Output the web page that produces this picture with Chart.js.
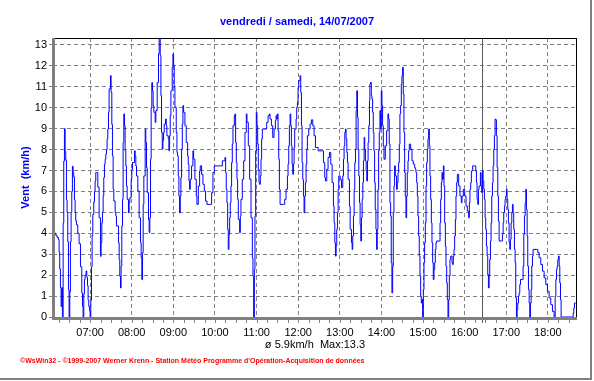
<!DOCTYPE html>
<html>
<head>
<meta charset="utf-8">
<title>Vent</title>
<script src="https://cdn.jsdelivr.net/npm/chart.js@4.4.1/dist/chart.umd.min.js"></script>
<style>
  html, body { margin:0; padding:0; background:#ffffff; overflow:hidden; }
  #c { display:block; }
</style>
</head>
<body>
<canvas id="c" width="594" height="381"></canvas>
<script>
// ---------- texts ----------
const chartTitle = 'vendredi / samedi, 14/07/2007';
const yAxisTitle = 'Vent  (km/h)';
const summaryLine = 'ø 5.9km/h  Max:13.3';
const creditLine = '©WsWin32 - ©1999-2007 Werner Krenn - Station Météo Programme d\'Opération-Acquisition de données';

// ---------- axes ----------
const hourTickLabels = ['07:00','08:00','09:00','10:00','11:00','12:00','13:00','14:00','15:00','16:00','17:00','18:00'];
const speedTickValues = [0,1,2,3,4,5,6,7,8,9,10,11,12,13];
const timeRange = [366.5, 1122];      // minutes since midnight
const speedMax = 13.33;
const markerTime = '16:25';

// ---------- data (time in minutes since midnight, wind in km/h) ----------
const timesA = [368.5,370.5,372.4,374.3,375.3,376.2,377.2,378.2,379.1,380.1,
381.1,382.0,383.0,384.0,384.9,385.9,386.8,387.8,388.8,389.7,
390.7,391.6,392.6,393.6,394.5,395.5,396.4,397.4,398.4,399.3,
400.3,402.2,404.1,406.1,408.0,409.0,409.9,410.9,411.8,412.8,
414.2,415.2,416.2,417.1,418.1,419.1,420.0,421.0,422.0,422.9,
423.9,425.3,426.3,427.2,428.2,429.2,431.1,433.0,434.9,435.9,
436.9,437.8,438.8,439.7,440.7,441.7,442.6,443.6,444.5,445.5,
446.5,447.4,449.4,450.3,451.3,452.2,453.2,454.2,456.1,457.1,
458.0,460.9,461.9,462.8,463.8,464.7,465.7,466.7,467.6,468.6,
469.6,470.5,471.5,472.4,473.4,475.3,476.3,477.3,479.2,480.1,
481.1,484.0,485.0,485.9,486.9,488.8,490.7,492.7,493.6,494.6,
495.5,496.5,497.5,499.4,500.3,501.3,502.3,504.2,505.1,506.1,
507.1,508.0,509.0,510.0,510.9,511.9,513.8,514.8,516.7,518.6,
519.6];
const speedsA = [4.0,3.9,3.8,3.7,3.1,2.3,1.4,0.5,1.4,0,
4.5,7.45,9.0,7.9,7.5,5.6,5.0,3.6,1.3,0,
1.2,3.6,5.0,6.0,7.2,6.9,6.7,5.6,5.0,4.6,
4.4,4.0,3.5,2.4,1.15,0.5,0,1.1,1.8,2.0,
2.2,1.9,1.5,0.8,0.5,0.3,0,0.8,2.4,3.9,
4.9,5.5,6.0,6.5,6.9,6.9,6.2,4.74,2.9,3.55,
4.5,5.0,5.8,6.66,7.3,7.54,7.78,8.0,8.5,8.98,
9.78,10.9,11.53,10.73,9.2,7.7,6.1,5.54,4.98,4.82,
4.35,3.55,2.75,1.95,1.39,2.43,4.35,5.62,8.34,9.7,
9.14,7.94,7.22,6.26,5.62,4.98,5.46,5.7,6.58,7.06,
7.38,7.94,7.7,7.22,6.74,6.02,4.74,3.55,2.83,1.79,
3.07,5.38,6.74,8.98,8.34,7.14,5.94,4.66,4.03,4.74,
7.54,10.0,11.2,10.8,10.1,9.78,9.3,9.86,11.2,12.57,
13.37];

const timesB = [521.1,522.1,523.0,524.0,525.0,525.9,526.9,528.8,529.8,530.7,
532.7,533.6,534.6,535.5,536.5,538.4,539.4,540.4,541.3,542.3,
544.2,545.2,546.1,547.1,548.0,549.0,550.0,550.9,551.9,552.9,
553.8,554.8,556.7,558.6,560.6,561.5,562.5,563.4,564.4,566.3,
568.2,569.2,571.1,573.1,574.0,576.0,577.9,578.8,580.8,582.7,
584.6,586.5,588.5,593.3,595.2,597.1,599.0,607.7,610.6,614.4,
615.4,616.3,617.3,618.3,619.2,620.2,621.2,622.1,623.1,624.0,
625.0,626.0,627.9,628.9,629.8,630.8,631.7,632.7,633.7,635.6,
636.6,637.5,639.4,641.4,643.3,645.2,646.2,648.1,650.0,652.0,
653.9,654.8,655.8,656.8,657.7,658.7,659.6,660.6,661.6,662.5,
663.5,664.4,665.4,666.4,667.3,668.3];
const speedsB = [12.49,10.58,8.82,8.02,8.42,8.82,9.22,9.46,9.14,8.66,
8.5,7.94,8.66,9.62,10.81,11.93,12.57,12.01,10.97,10.02,
8.82,7.86,7.7,6.74,5.78,4.98,5.78,6.66,8.02,9.22,
10.1,9.78,9.14,8.34,7.7,7.3,6.5,6.1,6.58,7.22,
7.94,7.54,6.58,5.78,5.38,6.26,6.98,7.22,6.82,6.34,
6.02,5.54,5.38,5.38,5.94,6.9,7.22,7.22,7.46,7.62,
6.9,6.1,5.46,4.19,3.23,3.95,4.74,5.46,6.26,7.38,
8.26,9.14,9.62,9.7,8.34,7.38,6.58,5.62,4.66,4.03,
4.82,5.62,6.58,7.46,8.82,9.7,9.3,8.18,6.58,4.74,
2.83,1.95,0,2.27,4.82,7.94,9.78,9.14,8.26,7.06,
6.42,6.34,6.74,7.54,8.5,8.98];

const timesC = [669.8,672.7,674.6,676.6,678.5,679.4,681.4,683.3,685.2,687.1,
688.1,689.1,690.0,691.0,692.0,692.9,693.9,698.7,700.6,702.5,
704.5,705.4,706.4,707.3,708.3,709.3,710.2,711.2,712.2,713.1,
714.1,715.0,717.0,717.9,718.9,719.8,720.8,722.7,723.7,724.7,
725.6,726.6,727.6,728.5,729.5,730.4,731.4,732.4,733.3,735.2,
737.2,739.1,741.0,742.9,744.9,748.7,754.5,756.4,758.3,759.3,
761.2,763.1,765.1,767.0,768.9,770.8,771.8,772.8,773.7,774.7,
775.6,776.6,777.6,778.5,780.5,782.4,784.3,785.3,786.2,787.2,
788.2,789.1,790.1,791.0,792.0,793.9,794.9,796.8,797.8,798.7,
799.7,800.7,801.6,802.6,803.5,804.5,805.5,806.4,807.4,808.4,
809.3,810.3,811.2,812.2,813.2,814.1,815.1,816.0,817.0,818.0,
818.9,819.9,820.8,821.8,822.8];
const speedsC = [8.98,8.98,9.3,9.62,9.7,9.46,9.14,8.58,8.98,9.38,
9.62,9.46,9.7,8.9,7.54,6.1,5.38,5.38,5.62,6.1,
6.74,7.3,8.18,9.14,9.7,9.14,8.18,7.3,6.82,7.3,
8.1,8.98,9.46,10.02,10.26,10.97,11.29,11.53,10.73,9.14,
7.38,6.58,5.78,4.98,5.78,6.42,7.3,8.02,8.66,8.98,
9.22,9.42,9.14,8.66,8.1,7.94,7.94,7.38,6.66,6.5,
7.06,7.62,7.86,7.3,6.42,5.3,4.5,3.55,2.91,3.39,
4.19,4.98,6.1,6.74,6.58,6.18,6.74,7.54,8.18,8.82,
8.98,8.5,7.86,7.38,6.58,5.3,4.19,3.55,3.23,3.87,
4.82,6.1,7.38,8.02,9.86,10.81,9.54,8.02,6.74,5.46,
4.42,3.63,4.74,5.62,6.42,7.46,8.58,8.02,7.46,6.98,
6.5,7.46,8.34,9.14,10.34];

const timesD = [823.4,824.4,825.4,826.3,827.3,828.3,829.2,830.2,831.1,832.1,
833.1,834.0,835.0,836.0,836.9,837.9,838.8,839.8,840.8,841.7,
842.7,843.7,845.6,847.5,849.4,850.4,851.3,852.3,853.3,854.2,
855.2,856.2,857.1,858.1,859.0,860.0,861.9,862.9,863.9,864.8,
865.8,866.7,867.7,868.7,869.6,870.6,871.5,872.5,873.5,874.4,
875.4,876.4,877.3,878.3,879.2,880.2,882.1,884.1,886.0,887.9,
888.9,889.8,890.8,891.8,892.7,893.7,894.6,895.6,896.6,897.5,
898.5,899.4,900.4,901.4,902.3,903.3,904.3,905.2,906.2,907.1,
908.1,909.1,910.0,911.0,912.0,912.9,913.9,914.8,915.8,916.8,
917.7,918.7,919.6,923.5,924.5,925.4,926.4,927.3,928.3,929.3,
930.2,931.2,932.2,933.1,934.1,935.0,936.0,937.0,937.9,938.9,
939.9,941.8,942.7,943.7,944.7,945.6,946.6,947.5,948.5,949.5,
951.4,953.3,955.2,956.2,958.1,960.1,962.0,963.9,965.8,966.8,
967.7,968.7,969.7,971.6,973.5];
const speedsD = [11.13,11.21,10.58,10.42,9.78,8.82,7.94,6.42,5.14,4.19,
3.23,4.19,6.1,7.94,8.82,9.86,8.98,10.81,10.1,9.14,
8.18,7.54,8.18,8.9,9.7,9.46,8.26,5.46,4.82,2.59,
1.15,2.43,4.98,6.26,7.22,6.74,6.1,6.42,6.9,7.38,
8.26,9.7,10.1,11.13,11.53,11.93,10.65,8.82,6.9,5.78,
4.74,5.78,6.9,7.46,7.94,8.26,8.02,7.46,7.3,7.14,
7.06,6.9,6.42,5.78,4.82,3.87,2.91,1.95,0.99,0.67,
0.83,0,1.31,2.59,3.55,4.5,6.26,7.38,8.02,8.5,
8.98,8.18,6.74,5.62,4.5,3.55,2.59,1.79,2.27,2.59,
3.23,3.55,3.63,3.63,4.5,5.62,6.42,6.9,6.58,7.22,
6.26,4.5,3.39,2.43,1.63,0.83,0,0.83,1.95,2.75,
2.91,2.59,2.51,2.91,3.23,3.87,4.66,5.78,6.42,6.82,
6.26,5.78,5.46,5.78,6.1,5.78,5.3,5.06,4.74,5.46,
6.1,6.42,6.98,7.22,7.22];

const timesE = [975.0,976.0,977.0,977.9,978.9,979.9,980.8,982.7,983.7,984.7,
985.6,986.6,987.6,988.5,989.5,990.4,991.4,992.4,993.3,994.3,
995.3,996.2,997.2,998.1,999.1,1000.1,1001.0,1002.0,1002.9,1003.9,
1004.9,1005.8,1006.8,1007.8,1008.7,1009.7,1013.5,1014.5,1015.5,1016.4,
1017.4,1018.3,1019.3,1020.3,1021.2,1022.2,1023.1,1024.1,1025.1,1026.0,
1027.0,1028.0,1028.9,1029.9,1030.8,1031.8,1032.8,1033.7,1034.7,1035.7,
1036.6,1037.6,1038.5,1039.5,1040.5,1043.4,1044.3,1045.3,1046.2,1047.2,
1048.2,1049.1,1050.1,1051.0,1052.0,1053.0,1053.9,1054.9,1055.9,1056.8,
1057.8,1058.7,1063.6,1065.5,1067.4,1069.8,1072.2,1074.6,1077.0,1079.4,
1081.8,1084.2,1086.6,1089.0,1090.5,1091.5,1092.4,1093.4,1094.3,1095.3,
1096.3,1097.2,1098.2,1099.1,1115.5,1116.5,1117.4,1118.4,1120.3];
const speedsE = [7.22,6.98,6.42,5.62,5.38,6.1,6.26,6.9,6.26,5.94,
6.98,6.5,6.1,5.62,4.74,4.19,3.39,2.91,2.03,1.39,
1.95,2.75,3.63,4.5,5.78,6.42,7.22,8.02,8.66,9.46,
9.42,8.66,7.14,5.78,4.58,3.63,3.63,3.95,4.5,4.98,
5.3,5.62,5.78,6.1,5.62,5.14,4.5,3.55,3.23,3.71,
4.5,4.98,5.38,4.98,4.19,3.23,2.59,0.91,0,0.35,
0.67,0.99,1.15,1.55,1.79,1.79,2.43,3.95,4.82,5.46,
6.1,5.14,3.87,2.43,1.31,0.67,0,0.67,1.31,2.43,
2.91,3.23,3.23,3.07,2.83,2.51,2.19,1.87,1.55,1.23,
0.91,0.59,0.27,0,0.99,1.79,2.27,2.43,2.75,2.91,
2.43,1.63,0.83,0,0,0.19,0.43,0.67,0.67];

// ---------- build ----------
const sampleTimes = [].concat(timesA, timesB, timesC, timesD, timesE);
const windSpeeds = [].concat(speedsA, speedsB, speedsC, speedsD, speedsE);

function toMinutes(hhmm) { const p = hhmm.split(':'); return (+p[0]) * 60 + (+p[1]); }
function fmtTime(m) {
  const h = Math.floor(m / 60), mm = Math.round(m - h * 60);
  return String(h).padStart(2, '0') + ':' + String(mm).padStart(2, '0');
}

const FONT = '"Liberation Sans", Arial, sans-serif';

const decor = {
  id: 'decor',
  beforeDraw(chart) {
    const ctx = chart.ctx;
    ctx.save();
    ctx.fillStyle = '#ffffff';
    ctx.fillRect(0, 0, chart.width, chart.height);
    ctx.restore();
  },
  beforeDatasetsDraw(chart) {
    const { ctx, chartArea: a, scales: { x } } = chart;
    const mx = Math.round(x.getPixelForValue(toMinutes(markerTime))) + 0.5;
    ctx.save();
    ctx.strokeStyle = '#5a5a5a';
    ctx.lineWidth = 1;
    ctx.beginPath();
    ctx.moveTo(mx, a.top);
    ctx.lineTo(mx, a.bottom + 6);
    ctx.stroke();
    ctx.restore();
  },
  afterDatasetsDraw(chart) {
    const { ctx, chartArea: a, scales: { x } } = chart;
    ctx.save();
    // top and right frame of the plot
    ctx.fillStyle = '#000000';
    ctx.fillRect(a.left, a.top, a.right - a.left, 1);
    ctx.fillRect(a.right - 1, a.top, 1, a.bottom - a.top);
    // quarter-hour ticks under the time axis
    ctx.fillStyle = '#808080';
    for (let t = Math.ceil(x.min / 15) * 15; t <= x.max; t += 15) {
      const px = Math.round(x.getPixelForValue(t));
      ctx.fillRect(px, a.bottom + 2, 1, 4);
    }
    // thick grey axes (left, bottom)
    ctx.fillRect(a.left - 1, a.top, 3, a.bottom - a.top + 3);
    ctx.fillRect(a.left - 1, a.bottom, a.right - a.left + 1, 3);

    // texts
    ctx.textBaseline = 'middle';
    ctx.textAlign = 'center';
    ctx.fillStyle = '#0000ff';
    ctx.font = 'bold 11px ' + FONT;
    ctx.fillText(chartTitle, chart.width / 2, 22);

    ctx.fillStyle = '#000000';
    ctx.font = '11px ' + FONT;
    ctx.fillText(summaryLine, (a.left + a.right) / 2, 345);

    ctx.textAlign = 'left';
    ctx.fillStyle = '#ff0000';
    ctx.font = 'bold 7px ' + FONT;
    ctx.fillText(creditLine, 20, 361);

    // outer panel edge
    ctx.fillStyle = '#808080';
    ctx.fillRect(chart.width - 4, 0, 2, chart.height - 2);
    ctx.fillRect(0, chart.height - 3, chart.width - 2, 2);
    ctx.restore();
  }
};

new Chart(document.getElementById('c').getContext('2d'), {
  type: 'line',
  data: {
    datasets: [{
      data: sampleTimes.map((t, i) => ({ x: t, y: windSpeeds[i] })),
      borderColor: '#0000ff',
      borderWidth: 1,
      pointRadius: 0,
      stepped: true,
      fill: false,
      tension: 0
    }]
  },
  options: {
    responsive: false,
    animation: false,
    devicePixelRatio: 1,
    events: [],
    layout: { padding: { left: 0, right: 17, top: 38, bottom: 0 } },
    plugins: { legend: { display: false }, tooltip: { enabled: false }, title: { display: false } },
    scales: {
      x: {
        type: 'linear',
        min: timeRange[0],
        max: timeRange[1],
        afterBuildTicks: s => { s.ticks = hourTickLabels.map(h => ({ value: toMinutes(h) })); },
        afterFit: s => { s.height = 64; },
        ticks: {
          autoSkip: false, maxRotation: 0, minRotation: 0, padding: 9,
          color: '#000000', font: { family: FONT, size: 11 },
          callback: v => fmtTime(v)
        },
        grid: { color: '#808080', lineWidth: 1, drawTicks: false },
        border: { display: false, dash: [4, 3] }
      },
      y: {
        min: 0,
        max: speedMax,
        afterBuildTicks: s => { s.ticks = speedTickValues.map(v => ({ value: v })); },
        afterFit: s => { s.width = 53; },
        ticks: { padding: 2, color: '#000000', font: { family: FONT, size: 11 } },
        grid: { color: '#808080', lineWidth: 1, drawTicks: true, tickLength: 4, tickColor: '#808080' },
        border: { display: false, dash: [4, 3] },
        title: {
          display: true, text: yAxisTitle, color: '#0000ff',
          font: { family: FONT, size: 11, weight: 'bold' },
          padding: { top: 19.4, bottom: 0 }
        }
      }
    }
  },
  plugins: [decor]
});
</script>
</body>
</html>
